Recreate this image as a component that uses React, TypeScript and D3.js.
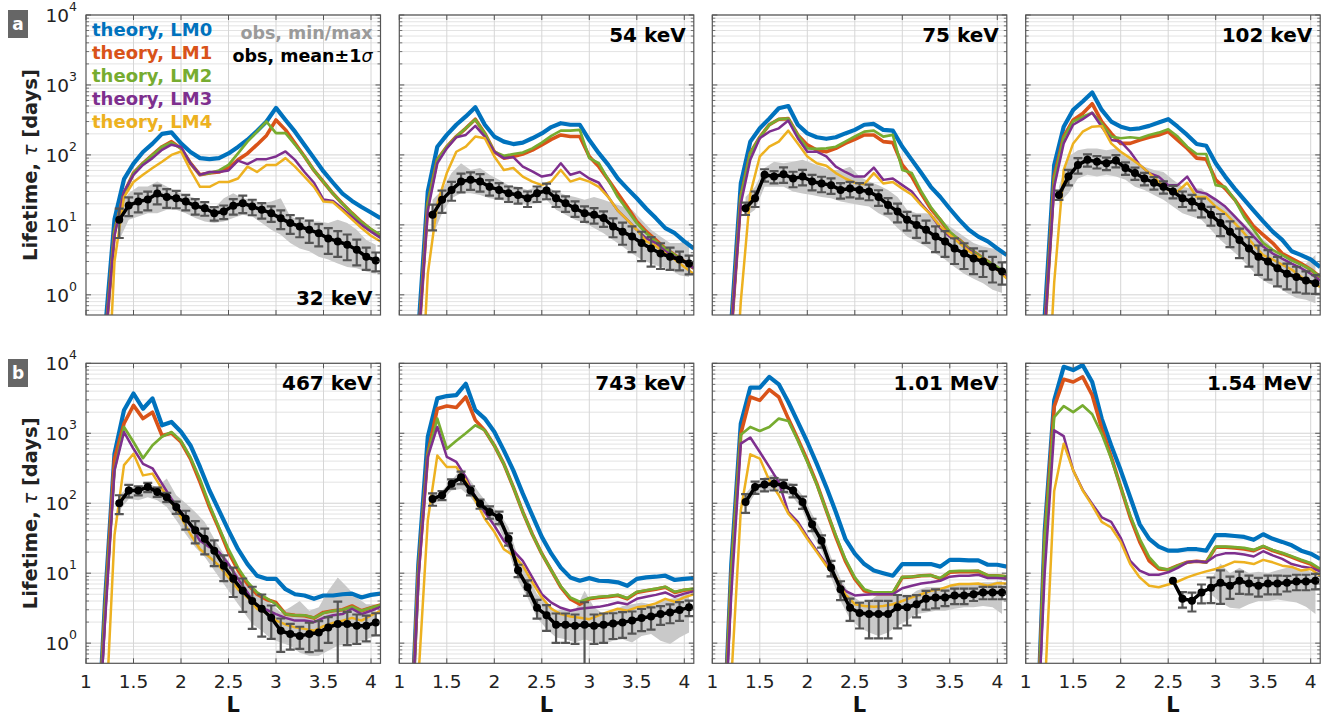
import React from 'react';
import * as d3 from 'd3';

// ---------- grids ----------
const L_THEORY = [1.1, 1.2, 1.3, 1.4, 1.5, 1.6, 1.7, 1.8, 1.9, 2.0, 2.1, 2.2, 2.3, 2.4, 2.5, 2.6, 2.7, 2.8, 2.9, 3.0, 3.1, 3.2, 3.3, 3.4, 3.5, 3.6, 3.7, 3.8, 3.9, 4.0, 4.1];
const L_OBS = [1.35, 1.45, 1.55, 1.65, 1.75, 1.85, 1.95, 2.05, 2.15, 2.25, 2.35, 2.45, 2.55, 2.65, 2.75, 2.85, 2.95, 3.05, 3.15, 3.25, 3.35, 3.45, 3.55, 3.65, 3.75, 3.85, 3.95, 4.05];
const X_TICKS = [1, 1.5, 2, 2.5, 3, 3.5, 4];
const X_TICK_LABELS = ['1', '1.5', '2', '2.5', '3', '3.5', '4'];
const Y_DECADES = [0, 1, 2, 3, 4];
const PANEL_TITLES = ['32 keV', '54 keV', '75 keV', '102 keV', '467 keV', '743 keV', '1.01 MeV', '1.54 MeV'];
const MODEL_NAMES = ['theory, LM0', 'theory, LM1', 'theory, LM2', 'theory, LM3', 'theory, LM4'];

// ---------- 32 keV ----------
const lm0_32 = [0.01, 0.3, 12, 45, 75, 110, 145, 200, 210, 146, 110, 90, 87, 90, 105, 130, 165, 220, 300, 470, 316, 215, 139, 90, 58, 40, 28, 22, 18, 15, 12.5];
const lm1_32 = [0.01, 0.2, 8, 28, 55, 76, 100, 131, 155, 124, 76, 52, 55, 57, 65, 85, 105, 140, 190, 316, 228, 147, 95, 60, 41, 28, 20, 14.7, 11, 8.5, 6.8];
const lm2_32 = [0.01, 0.2, 8, 28, 55, 76, 100, 131, 150, 124, 76, 52, 55, 60, 72, 105, 155, 215, 300, 205, 205, 140, 95, 60, 41, 28, 20, 14.7, 11, 8.7, 7.2];
const lm3_32 = [0.01, 0.2, 7, 30, 52, 72, 90, 118, 140, 130, 76, 52, 57, 57, 60, 83, 74, 87, 87, 95, 112, 85, 57, 40, 23, 22, 17, 13, 10, 8, 6.5];
const lm4_32 = [0.001, 0.005, 3, 25, 41, 52, 65, 80, 100, 112, 60, 35, 35, 41, 41, 46, 68, 57, 72, 72, 90, 68, 49, 35, 21.5, 21, 16, 12, 9, 7, 5.8];
const mean_32 = [11.8, 19, 21.5, 23, 28, 25, 24, 21.5, 18.7, 17.3, 14.7, 15.5, 18.7, 20.4, 18.3, 16.4, 14.7, 12.4, 10.6, 9.5, 8.5, 7.6, 6.4, 5.8, 5.2, 4.4, 3.5, 3.1];
const max_32 = [18.3, 28.3, 35.3, 35.3, 41.6, 35.3, 29.9, 26.8, 24, 20.4, 17.3, 24, 28.3, 24, 22.8, 20.4, 21.5, 24, 13.2, 11.8, 11.2, 11.2, 10.6, 11.8, 10.6, 8.5, 6.1, 5.2];
const min_32 = [6.1, 11.8, 13.2, 14.7, 14.7, 16.4, 16.4, 14.7, 12.5, 11.2, 10.6, 11.2, 12.5, 13.9, 13.2, 10.6, 8.5, 7.2, 5.5, 4.6, 4.2, 3.5, 3.2, 2.8, 2.5, 2.4, 2.15, 2.0];
const sig_32 = [0.45, 0.3, 0.3, 0.3, 0.3, 0.3, 0.28, 0.25, 0.25, 0.22, 0.22, 0.22, 0.25, 0.28, 0.25, 0.25, 0.25, 0.3, 0.3, 0.3, 0.35, 0.35, 0.4, 0.4, 0.4, 0.4, 0.35, 0.3];

// ---------- 54 keV ----------
const lm0_54 = [0.01, 0.3, 30, 131, 193, 270, 355, 480, 270, 183, 155, 143, 150, 173, 203, 250, 284, 270, 270, 163, 106, 72, 46, 33, 24, 17, 12.5, 9, 7.6, 5.8, 4.6];
const lm1_54 = [0.01, 0.2, 20, 85, 131, 183, 240, 324, 203, 111, 90, 95, 103, 117, 139, 167, 193, 183, 183, 95, 68, 44, 28, 18, 11.2, 8, 6.1, 4.6, 3.7, 3, 2.4];
const lm2_54 = [0.01, 0.2, 20, 85, 131, 183, 240, 320, 203, 111, 97, 103, 108, 124, 150, 187, 222, 222, 228, 90, 76, 44, 25, 16.4, 10.6, 7.6, 5.8, 4.6, 3.7, 3, 2.4];
const lm3_54 = [0.01, 0.2, 16, 76, 124, 179, 193, 260, 183, 111, 90, 93, 68, 58, 49, 52, 76, 52, 57, 46, 40, 25, 16, 11.8, 8.5, 6.4, 5.5, 4.2, 3.5, 3, 2.4];
const lm4_54 = [0.001, 0.005, 2, 20, 55, 111, 131, 183, 173, 95, 61, 65, 49, 41.6, 37, 41.6, 61, 41.6, 46, 41.6, 35, 25, 16, 11.8, 8.5, 5.8, 5, 3.9, 3.2, 2.5, 2.0];
const mean_54 = [13.9, 22.8, 31.6, 41.6, 44, 41.6, 35, 31.6, 28.3, 26.8, 24, 28.3, 31, 24, 20.4, 17.3, 14.7, 13.9, 12.5, 9.5, 8, 6.8, 5.5, 4.6, 3.9, 3.5, 3.2, 2.8];
const max_54 = [22.8, 31.6, 55, 76, 61, 65, 52, 44, 37, 35, 31.6, 35, 35, 29.9, 26.8, 25, 22.8, 25, 22.8, 20.4, 18.3, 16.4, 11.8, 8.5, 6.8, 5.5, 5.5, 6.1];
const min_54 = [6.8, 14.7, 24, 28.3, 28.3, 26.8, 24, 22.8, 21.5, 20.4, 19.3, 20.4, 22.8, 16.4, 13.9, 11.8, 10.6, 9, 7.6, 6.1, 4.9, 3.9, 3.2, 2.8, 2.5, 2.3, 1.9, 1.8];
const sig_54 = [0.4, 0.35, 0.3, 0.3, 0.28, 0.28, 0.25, 0.25, 0.25, 0.25, 0.25, 0.25, 0.25, 0.25, 0.25, 0.25, 0.25, 0.25, 0.25, 0.3, 0.35, 0.4, 0.45, 0.45, 0.4, 0.35, 0.3, 0.3];

// ---------- 75 keV ----------
const lm0_75 = [0.01, 0.4, 39, 155, 240, 330, 465, 500, 270, 203, 179, 170, 179, 203, 228, 270, 277, 228, 222, 131, 85, 55, 35, 25, 17, 11.8, 8.5, 6.8, 5.8, 4.6, 3.7];
const lm1_75 = [0.01, 0.3, 25, 106, 179, 270, 324, 330, 193, 139, 117, 111, 124, 146, 167, 193, 193, 155, 150, 72, 49, 28, 17, 11.8, 7.6, 6.1, 4.6, 3.7, 3, 2.4, 1.9];
const lm2_75 = [0.01, 0.3, 25, 106, 179, 270, 324, 330, 193, 124, 122, 124, 131, 155, 183, 215, 222, 183, 193, 61, 55, 30, 18, 12, 8, 6.1, 4.6, 3.7, 3, 2.5, 2.0];
const lm3_75 = [0.01, 0.3, 20, 85, 173, 215, 240, 310, 173, 111, 111, 95, 68, 57, 49, 49, 66, 44, 46, 37, 30, 20, 14, 9, 6.8, 5.8, 4.4, 3.5, 2.8, 2.3, 1.8];
const lm4_75 = [0.001, 0.005, 0.8, 28, 95, 131, 155, 222, 146, 95, 76, 70, 55, 46, 40, 38, 55, 39, 41, 33, 27, 19, 14, 9.5, 7.2, 5.5, 4.2, 3.5, 2.8, 2.3, 1.7];
const mean_75 = [17.3, 24, 52, 49, 53, 46, 49, 41.6, 39, 37, 31.6, 33, 31.6, 30, 25, 19.3, 15.5, 11.8, 10, 8.5, 6.8, 5.8, 4.6, 3.9, 3.3, 3, 2.5, 2.15];
const max_75 = [25, 35, 65, 80, 76, 80, 85, 76, 68, 61, 61, 68, 49, 41.6, 37, 31.6, 25, 16.4, 14.7, 14.7, 13.2, 10.6, 8.5, 6.8, 5.5, 4.9, 4.6, 4.4];
const min_75 = [13.2, 16.4, 35, 35, 35, 30, 28, 26.8, 25, 24, 21.5, 20.4, 19.3, 18.3, 14.7, 12.5, 9, 6.8, 5.8, 4.9, 3.9, 3.2, 2.5, 2.0, 1.7, 1.47, 1.18, 1.06];
const sig_75 = [0.2, 0.25, 0.2, 0.2, 0.25, 0.25, 0.25, 0.25, 0.25, 0.25, 0.25, 0.25, 0.25, 0.25, 0.25, 0.25, 0.3, 0.3, 0.35, 0.35, 0.4, 0.4, 0.4, 0.4, 0.4, 0.4, 0.4, 0.35];

// ---------- 102 keV ----------
const lm0_102 = [0.01, 0.5, 72, 253, 440, 580, 780, 440, 300, 253, 233, 240, 260, 290, 324, 253, 193, 143, 135, 76, 49, 33, 23, 16, 11.2, 8, 6.1, 4.2, 3.7, 3.2, 2.5];
const lm1_102 = [0.01, 0.3, 49, 183, 316, 390, 540, 300, 203, 146, 146, 163, 179, 193, 215, 163, 124, 90, 87, 44, 33, 23, 14.7, 9.5, 7.2, 5.5, 3.9, 3.3, 2.8, 2.3, 1.8];
const lm2_102 = [0.01, 0.3, 45, 175, 300, 350, 400, 280, 183, 173, 179, 173, 193, 208, 233, 183, 131, 103, 103, 37, 35, 23, 13, 8.5, 5.5, 4.4, 3.7, 3.1, 2.7, 2.3, 1.8];
const lm3_102 = [0.01, 0.3, 35, 146, 270, 324, 400, 253, 163, 155, 111, 72, 55, 49, 37, 37, 49, 30, 28, 23, 18.3, 13.2, 9.5, 6.8, 4.9, 3.9, 3.3, 2.8, 2.4, 2, 1.6];
const lm4_102 = [0.001, 0.005, 1.5, 61, 146, 215, 253, 260, 146, 111, 90, 72, 55, 41.6, 31.6, 30, 40, 25, 25, 18.3, 14.7, 10.6, 7.6, 5.2, 3.7, 3.2, 2.7, 2.3, 1.8, 1.5, 1.3];
const mean_102 = [26.8, 49, 72, 85, 80, 76, 83, 65, 55, 46, 40, 35, 30, 24, 21.5, 18.3, 13.9, 10.6, 8, 6.1, 4.6, 3.5, 3, 2.4, 2, 1.8, 1.6, 1.47];
const max_102 = [35, 95, 117, 124, 124, 117, 124, 95, 80, 68, 61, 57, 44, 35, 33, 33, 25, 20.4, 14.7, 11.8, 9, 6.8, 5.5, 3.9, 3, 2.5, 2.8, 3.7];
const min_102 = [20.4, 28.3, 46, 52, 49, 52, 49, 44, 35, 31.6, 26.8, 22.8, 18.3, 14.7, 13.2, 11.8, 8.5, 6.1, 4.6, 3.5, 2.5, 1.8, 1.47, 1.3, 1.06, 0.9, 0.85, 0.76];
const sig_102 = [0.15, 0.25, 0.25, 0.2, 0.2, 0.2, 0.2, 0.2, 0.2, 0.2, 0.2, 0.2, 0.2, 0.25, 0.25, 0.3, 0.3, 0.35, 0.4, 0.45, 0.45, 0.45, 0.45, 0.45, 0.4, 0.4, 0.35, 0.3];

// ---------- 467 keV ----------
const lm0_467 = [0.01, 4, 510, 2130, 3700, 2240, 3150, 1300, 1450, 1050, 670, 330, 152, 79, 41, 22, 13.5, 9.2, 8.3, 8.3, 5.9, 5.0, 4.8, 4.3, 4.8, 4.8, 5.0, 5.1, 4.5, 4.9, 5.1];
const lm1_467 = [0.01, 3, 430, 1380, 2500, 1620, 2000, 930, 1000, 750, 430, 200, 88, 43, 20, 11, 7, 5, 4.2, 3.8, 2.6, 2.5, 2.46, 2.28, 2.75, 2.9, 3.0, 3.4, 2.9, 3.2, 3.5];
const lm2_467 = [0.01, 3, 300, 1230, 750, 440, 675, 890, 1040, 780, 450, 220, 95, 45, 22, 12, 7.5, 5.3, 4.4, 3.6, 2.6, 2.5, 2.5, 2.3, 2.7, 2.9, 3.0, 3.3, 2.9, 3.2, 3.5];
const lm3_467 = [0.01, 2, 295, 1040, 600, 365, 316, 190, 115, 75, 48, 29, 23.5, 20, 13.5, 8.3, 5.3, 3.2, 3.0, 2.6, 2.3, 2.1, 2.1, 2.0, 2.3, 2.5, 2.6, 3.1, 2.6, 2.9, 3.3];
const lm4_467 = [0.001, 0.05, 35, 350, 510, 250, 265, 160, 103, 63, 36, 22, 17, 12.8, 8.7, 5.9, 4.5, 3.1, 2.7, 2.1, 1.85, 1.68, 1.6, 1.5, 1.75, 1.95, 2.1, 2.3, 2.1, 2.5, 2.9];
const mean_467 = [100, 152, 152, 170, 145, 122, 88, 60, 41, 31, 21, 12.8, 8.3, 5.6, 4.0, 3.1, 2.3, 1.5, 1.35, 1.27, 1.35, 1.42, 1.68, 1.87, 1.87, 1.77, 1.77, 1.98];
const max_467 = [130, 170, 170, 190, 170, 225, 130, 100, 75, 54, 31, 19, 11.5, 8.7, 6.3, 5.0, 3.6, 2.75, 3.25, 4.0, 2.9, 3.25, 5.6, 8.7, 6.3, 4.5, 3.6, 3.6];
const min_467 = [78, 115, 110, 122, 110, 88, 57, 36, 23.5, 17, 10.9, 7, 4.5, 2.9, 1.87, 1.5, 1.14, 1.02, 0.92, 0.73, 0.66, 0.66, 0.78, 0.92, 0.97, 1.02, 1.14, 1.27];
const sig_467 = [0.3, 0.2, 0.15, 0.15, 0.15, 0.15, 0.2, 0.3, 0.35, 0.4, 0.4, 0.4, 0.45, 0.5, 0.6, 0.6, 0.5, 0.5, 0.4, 0.35, 0.45, 0.45, 0.4, 1.1, 0.5, 0.45, 0.4, 0.35];

// ---------- 743 keV ----------
const lm0_743 = [0.01, 13, 890, 3150, 3400, 3500, 5100, 2140, 1620, 1050, 570, 295, 137, 67, 33, 19, 12, 8.7, 7.8, 8.5, 7.8, 7.7, 7.4, 6.6, 8.3, 8.7, 8.9, 9.2, 8.0, 8.3, 8.5];
const lm1_743 = [0.01, 10, 510, 2240, 2450, 2330, 3300, 1540, 1100, 670, 365, 170, 75, 36, 19, 11, 6.3, 4.3, 3.6, 4.3, 4.5, 4.6, 4.8, 4.3, 5.3, 5.6, 5.9, 6.3, 5.3, 5.7, 5.9];
const lm2_743 = [0.01, 10, 500, 1620, 600, 780, 1000, 1300, 1100, 670, 365, 170, 75, 36, 19, 11, 6.5, 4.5, 3.9, 4.4, 4.6, 4.7, 4.9, 4.4, 5.4, 5.7, 6.0, 6.4, 5.4, 5.8, 6.0];
const lm3_743 = [0.01, 8, 460, 1230, 460, 390, 235, 122, 75, 48, 29, 21, 15, 8.7, 5.0, 3.8, 3.2, 2.9, 3.1, 3.2, 3.3, 3.5, 3.8, 3.6, 4.3, 4.6, 4.9, 5.3, 4.6, 5.1, 5.5];
const lm4_743 = [0.001, 0.3, 57, 480, 330, 330, 212, 110, 60, 39, 22, 18, 12.8, 7.4, 4.5, 3.1, 2.6, 2.4, 2.3, 2.2, 2.5, 2.8, 3.1, 2.9, 3.25, 3.4, 3.7, 4.3, 3.9, 4.5, 5.0];
const mean_743 = [115, 130, 190, 235, 152, 98, 75, 63, 31, 11, 6.3, 3.2, 2.5, 1.83, 1.83, 1.77, 1.83, 1.77, 1.83, 1.91, 1.98, 2.1, 2.28, 2.4, 2.6, 2.75, 2.97, 3.25];
const max_743 = [136, 152, 212, 310, 212, 136, 92, 75, 45, 17, 9.7, 5.0, 3.8, 2.9, 3.1, 2.9, 5.6, 3.25, 2.6, 2.9, 3.4, 3.6, 3.8, 3.6, 4.0, 4.3, 4.5, 5.6];
const min_743 = [98, 110, 152, 160, 122, 79, 57, 45, 21, 7.8, 4.5, 2.3, 1.59, 1.2, 1.14, 1.02, 1.14, 1.02, 0.97, 1.08, 1.14, 1.02, 1.27, 1.35, 1.08, 0.97, 1.2, 1.42];
const sig_743 = [0.2, 0.15, 0.15, 0.2, 0.15, 0.15, 0.2, 0.2, 0.2, 0.2, 0.25, 0.3, 0.4, 0.45, 0.45, 0.45, 1.1, 0.45, 0.45, 0.4, 0.4, 0.35, 0.35, 0.35, 0.3, 0.3, 0.3, 0.25];

// ---------- 1.01 MeV ----------
const lm0_1010 = [0.01, 13.5, 1380, 4500, 4500, 6400, 5000, 2800, 1450, 750, 365, 170, 75, 31, 19, 13.5, 10.9, 10, 9.2, 13.5, 13.5, 13.5, 13.5, 12.4, 15.5, 15.5, 15.2, 15.2, 13.2, 13.2, 12.4];
const lm1_1010 = [0.01, 10, 980, 3300, 2950, 4200, 3300, 1620, 830, 410, 190, 79, 33, 15, 8.3, 5.6, 5.1, 5.1, 5.1, 8.7, 8.8, 9.2, 9.3, 8.3, 10.3, 10.5, 10.5, 10.6, 9.2, 9.2, 8.9];
const lm2_1010 = [0.01, 10, 950, 1230, 1080, 1230, 1620, 1500, 790, 390, 185, 79, 35, 16, 8.7, 5.9, 5.3, 5.3, 5.3, 8.8, 8.9, 9.2, 9.3, 8.5, 10.6, 10.8, 10.8, 10.8, 9.3, 9.2, 9.0];
const lm3_1010 = [0.01, 5, 710, 870, 540, 330, 200, 75, 54, 33, 21, 13.5, 8.3, 5.6, 4.8, 4.9, 5.0, 5.0, 5.0, 6.1, 6.6, 7.1, 7.4, 7.8, 8.9, 9.2, 9.2, 9.5, 8.5, 8.5, 8.3];
const lm4_1010 = [0.001, 0.3, 79, 500, 435, 212, 130, 71, 50, 31, 20, 12.8, 8.7, 5.0, 3.6, 3.4, 3.3, 3.4, 3.6, 4.0, 4.5, 5.0, 5.6, 5.9, 6.6, 7.0, 7.0, 7.1, 6.6, 7.2, 7.1];
const mean_1010 = [104, 170, 185, 190, 180, 152, 104, 50, 29, 12, 5.9, 3.2, 2.7, 2.6, 2.6, 2.6, 3.25, 3.25, 3.6, 4.3, 4.5, 4.5, 4.8, 4.8, 5.0, 5.3, 5.3, 5.3];
const max_1010 = [137, 200, 235, 260, 212, 190, 130, 70, 40, 17, 8.3, 5.0, 4.0, 3.95, 5.0, 5.6, 5.0, 4.5, 5.6, 6.3, 6.3, 6.3, 6.6, 7.0, 7.0, 7.4, 7.4, 7.8];
const min_1010 = [83, 137, 152, 152, 144, 122, 79, 36, 21, 8.7, 4.0, 2.2, 1.68, 1.42, 1.27, 1.42, 1.77, 2.1, 2.6, 2.75, 2.9, 2.9, 3.1, 3.25, 3.25, 3.4, 3.25, 2.6];
const sig_1010 = [0.3, 0.2, 0.2, 0.2, 0.2, 0.2, 0.2, 0.2, 0.2, 0.25, 0.3, 0.35, 0.4, 0.55, 0.55, 0.55, 0.5, 0.45, 0.35, 0.3, 0.3, 0.25, 0.25, 0.25, 0.2, 0.2, 0.2, 0.2];

// ---------- 1.54 MeV ----------
const lm0_1540 = [0.01, 40, 2950, 8900, 8000, 9400, 5400, 1620, 670, 295, 122, 50, 31, 24, 21, 21, 22, 22, 21, 35, 35, 34, 33, 30, 36, 31, 28, 25, 21, 19, 16];
const lm1_1540 = [0.01, 30, 2400, 5900, 5400, 6400, 3500, 1170, 460, 170, 63, 28, 15, 11.5, 11.2, 12.8, 14.3, 14.8, 14.3, 23.5, 23.5, 23, 22.2, 21, 24, 21, 19, 17, 15, 13.5, 10.9];
const lm2_1540 = [0.01, 30, 1700, 2450, 2000, 2500, 1870, 980, 435, 170, 67, 31, 17, 12, 11.2, 12.8, 14.3, 14.8, 14.3, 24, 24, 23.5, 23, 21.5, 24.5, 21.5, 19.5, 17.5, 15.5, 14, 11.5];
const lm3_1540 = [0.01, 10, 1100, 910, 295, 155, 98, 63, 54, 32, 15, 10.9, 9.5, 9.5, 10.3, 11.9, 14.3, 14.8, 14.3, 17.8, 19.2, 19.2, 18.5, 17.3, 20.6, 18, 16, 13.5, 12.5, 11.9, 10.6];
const lm4_1540 = [0.001, 0.2, 150, 710, 295, 152, 93, 54, 45, 28, 13.5, 8.7, 6.6, 6.3, 6.9, 7.6, 8.7, 9.7, 10.6, 11.5, 12.8, 14.6, 14.3, 13.5, 15.5, 14.3, 12.8, 12.3, 10.9, 11.5, 9.2];
const mean_1540 = [null, null, null, null, null, null, null, null, null, null, null, null, 7.8, 4.3, 4.05, 5.3, 6.2, 7.3, 6.6, 7.8, 7.1, 6.6, 7.1, 7.1, 7.3, 7.6, 7.6, 7.8];
const max_1540 = [null, null, null, null, null, null, null, null, null, null, null, null, null, null, null, null, 8, 13.7, 10, 12, 10, 10.5, 10, 11, 12, 12, 11, 10];
const min_1540 = [null, null, null, null, null, null, null, null, null, null, null, null, null, null, null, null, 5, 3.8, 3.2, 3.1, 3.6, 4.0, 4.0, 4.2, 4.0, 3.8, 3.3, 2.6];
const sig_1540 = [null, null, null, null, null, null, null, null, null, null, null, null, 0, 0.25, 0.3, 0.3, 0.4, 0.5, 0.35, 0.35, 0.3, 0.3, 0.3, 0.3, 0.25, 0.25, 0.25, 0.25];

const PANELS = [
  { title: PANEL_TITLES[0], lm: [lm0_32, lm1_32, lm2_32, lm3_32, lm4_32], mean: mean_32, max: max_32, min: min_32, sig: sig_32 },
  { title: PANEL_TITLES[1], lm: [lm0_54, lm1_54, lm2_54, lm3_54, lm4_54], mean: mean_54, max: max_54, min: min_54, sig: sig_54 },
  { title: PANEL_TITLES[2], lm: [lm0_75, lm1_75, lm2_75, lm3_75, lm4_75], mean: mean_75, max: max_75, min: min_75, sig: sig_75 },
  { title: PANEL_TITLES[3], lm: [lm0_102, lm1_102, lm2_102, lm3_102, lm4_102], mean: mean_102, max: max_102, min: min_102, sig: sig_102 },
  { title: PANEL_TITLES[4], lm: [lm0_467, lm1_467, lm2_467, lm3_467, lm4_467], mean: mean_467, max: max_467, min: min_467, sig: sig_467 },
  { title: PANEL_TITLES[5], lm: [lm0_743, lm1_743, lm2_743, lm3_743, lm4_743], mean: mean_743, max: max_743, min: min_743, sig: sig_743 },
  { title: PANEL_TITLES[6], lm: [lm0_1010, lm1_1010, lm2_1010, lm3_1010, lm4_1010], mean: mean_1010, max: max_1010, min: min_1010, sig: sig_1010 },
  { title: PANEL_TITLES[7], lm: [lm0_1540, lm1_1540, lm2_1540, lm3_1540, lm4_1540], mean: mean_1540, max: max_1540, min: min_1540, sig: sig_1540 },
];

// ---------- styling ----------
const COLORS = ['#0072BD', '#D95319', '#77AC30', '#7E2F8E', '#EDB120'];
const WIDTHS = [4.2, 3.6, 2.7, 2.5, 2.5];
const FONT = 'DejaVu Sans, Verdana, sans-serif';
const COL_X = [86, 399.3, 712.3, 1025.7];
const ROW_Y = [15, 363.3];
const PW = 294.5;
const PH = 300;
const YMIN = 0.515;
const YMAX = 1e4;

function Panel({ p, idx }: { p: any; idx: number }) {
  const col = idx % 4;
  const row = Math.floor(idx / 4);
  const x0 = COL_X[col];
  const y0 = ROW_Y[row];
  const x = d3.scaleLinear().domain([1, 4.1]).range([x0, x0 + PW]);
  const y = d3.scaleLog().domain([YMIN, YMAX]).range([y0 + PH, y0]);
  const clipId = `clip-${idx}`;

  const minorY: number[] = [];
  for (let d = -1; d <= 3; d++) {
    for (let k = 2; k <= 9; k++) {
      const v = k * Math.pow(10, d);
      if (v > YMIN && v < YMAX) minorY.push(v);
    }
  }
  const majorY = Y_DECADES.map((d) => Math.pow(10, d));

  const theoryLine = d3
    .line<number>()
    .x((_, i) => x(L_THEORY[i]))
    .y((v) => y(v));

  const obsIdx = L_OBS.map((_, i) => i);
  const meanLine = d3
    .line<number>()
    .defined((i) => p.mean[i] != null)
    .x((i) => x(L_OBS[i]))
    .y((i) => y(p.mean[i]));
  const band = d3
    .area<number>()
    .defined((i) => p.min[i] != null && p.max[i] != null)
    .x((i) => x(L_OBS[i]))
    .y0((i) => y(p.min[i]))
    .y1((i) => y(p.max[i]));

  const frame = '#555';
  const titleTop = idx !== 0;

  return (
    <g>
      <defs>
        <clipPath id={clipId}>
          <rect x={x0} y={y0} width={PW} height={PH} />
        </clipPath>
      </defs>
      <rect x={x0} y={y0} width={PW} height={PH} fill="#fff" />
      {minorY.map((v) => (
        <line key={'mg' + v} x1={x0} x2={x0 + PW} y1={y(v)} y2={y(v)} stroke="#e3e3e3" strokeWidth={1} />
      ))}
      {majorY.map((v) => (
        <line key={'Mg' + v} x1={x0} x2={x0 + PW} y1={y(v)} y2={y(v)} stroke="#d3d3d3" strokeWidth={1} />
      ))}
      {X_TICKS.slice(1).map((t) => (
        <line key={'xg' + t} x1={x(t)} x2={x(t)} y1={y0} y2={y0 + PH} stroke="#d6d6d6" strokeWidth={1} />
      ))}
      <g clipPath={`url(#${clipId})`}>
        <path d={band(obsIdx) || ''} fill="#c9c9c9" />
        {p.lm.map((vals: number[], m: number) => (
          <path
            key={'lm' + m}
            d={theoryLine(vals) || ''}
            fill="none"
            stroke={COLORS[m]}
            strokeWidth={WIDTHS[m]}
            strokeLinejoin="round"
          />
        ))}
        {obsIdx.map((i) => {
          const m = p.mean[i];
          const s = p.sig[i];
          if (m == null || !s) return null;
          const hi = m * (1 + s);
          const loRaw = m * (1 - s);
          const lo = loRaw > 0 ? loRaw : YMIN * 0.3;
          const cx = x(L_OBS[i]);
          return (
            <g key={'eb' + i} stroke="#555" strokeWidth={2.2}>
              <line x1={cx} x2={cx} y1={y(lo)} y2={y(hi)} />
              <line x1={cx - 4.5} x2={cx + 4.5} y1={y(hi)} y2={y(hi)} />
              {loRaw > 0 && <line x1={cx - 4.5} x2={cx + 4.5} y1={y(lo)} y2={y(lo)} />}
            </g>
          );
        })}
        <path d={meanLine(obsIdx) || ''} fill="none" stroke="#000" strokeWidth={3.5} strokeLinejoin="round" />
        {obsIdx.map((i) =>
          p.mean[i] == null ? null : (
            <circle key={'pt' + i} cx={x(L_OBS[i])} cy={y(p.mean[i])} r={4} fill="#000" />
          )
        )}
      </g>
      <rect x={x0} y={y0} width={PW} height={PH} fill="none" stroke={frame} strokeWidth={1.2} />
      {X_TICKS.map((t) => (
        <g key={'xt' + t} stroke={frame} strokeWidth={1}>
          <line x1={x(t)} x2={x(t)} y1={y0 + PH} y2={y0 + PH - 5} />
          <line x1={x(t)} x2={x(t)} y1={y0} y2={y0 + 5} />
        </g>
      ))}
      {majorY.map((v) => (
        <g key={'yt' + v} stroke={frame} strokeWidth={1}>
          <line x1={x0} x2={x0 + 5} y1={y(v)} y2={y(v)} />
          <line x1={x0 + PW} x2={x0 + PW - 5} y1={y(v)} y2={y(v)} />
        </g>
      ))}
      {minorY.map((v) => (
        <g key={'ymt' + v} stroke={frame} strokeWidth={0.8}>
          <line x1={x0} x2={x0 + 3} y1={y(v)} y2={y(v)} />
          <line x1={x0 + PW} x2={x0 + PW - 3} y1={y(v)} y2={y(v)} />
        </g>
      ))}
      {col === 0 &&
        Y_DECADES.map((d) => (
          <text
            key={'yl' + d}
            x={x0 - 9}
            y={y(Math.pow(10, d)) + 7}
            textAnchor="end"
            fontFamily={FONT}
            fontSize={18.5}
            fill="#222"
          >
            10
            <tspan fontSize={12.5} dy={-11}>
              {d}
            </tspan>
          </text>
        ))}
      {row === 1 &&
        X_TICKS.map((t, i) => (
          <text
            key={'xl' + t}
            x={x(t)}
            y={y0 + PH + 25}
            textAnchor="middle"
            fontFamily={FONT}
            fontSize={18.5}
            fill="#222"
          >
            {X_TICK_LABELS[i]}
          </text>
        ))}
      {row === 1 && (
        <text x={x0 + PW / 2} y={712} textAnchor="middle" fontFamily={FONT} fontSize={21} fontWeight="bold" fill="#111">
          L
        </text>
      )}
      <text
        x={x0 + PW - 8}
        y={titleTop ? y0 + 27 : y0 + PH - 10}
        textAnchor="end"
        fontFamily={FONT}
        fontSize={20}
        fontWeight="bold"
        fill="#000"
      >
        {p.title}
      </text>
    </g>
  );
}

export default function App() {
  const legendX = COL_X[0] + 6;
  return (
    <svg
      width={1328}
      height={717}
      viewBox="0 0 1328 717"
      style={{ position: 'absolute', left: 0, top: 0, background: '#fff' }}
    >
      <rect x={0} y={0} width={1328} height={717} fill="#fff" />
      {PANELS.map((p, i) => (
        <Panel key={i} p={p} idx={i} />
      ))}
      {MODEL_NAMES.map((name, i) => (
        <text
          key={name}
          x={legendX}
          y={36 + i * 23}
          fontFamily={FONT}
          fontSize={18}
          fontWeight="bold"
          fill={COLORS[i]}
        >
          {name}
        </text>
      ))}
      <text x={COL_X[0] + PW - 8} y={39} textAnchor="end" fontFamily={FONT} fontSize={17.5} fontWeight="bold" fill="#9a9a9a">
        obs, min/max
      </text>
      <text x={COL_X[0] + PW - 8} y={62} textAnchor="end" fontFamily={FONT} fontSize={17.5} fontWeight="bold" fill="#000">
        obs, mean±1<tspan fontStyle="italic" fontWeight="normal">σ</tspan>
      </text>
      {ROW_Y.map((ry, r) => (
        <text
          key={'ylab' + r}
          transform={`translate(37, ${ry + PH / 2}) rotate(-90)`}
          textAnchor="middle"
          fontFamily={FONT}
          fontSize={19.5}
          fontWeight="bold"
          fill="#222"
        >
          Lifetime, <tspan fontStyle="italic" fontWeight="normal">τ</tspan> [days]
        </text>
      ))}
      {['a', 'b'].map((lbl, r) => (
        <g key={lbl}>
          <rect x={8} y={r === 0 ? 10 : 359} width={20} height={28} fill="#666" />
          <text
            x={18}
            y={(r === 0 ? 10 : 359) + 20}
            textAnchor="middle"
            fontFamily={FONT}
            fontSize={17}
            fontWeight="bold"
            fill="#fff"
          >
            {lbl}
          </text>
        </g>
      ))}
    </svg>
  );
}
